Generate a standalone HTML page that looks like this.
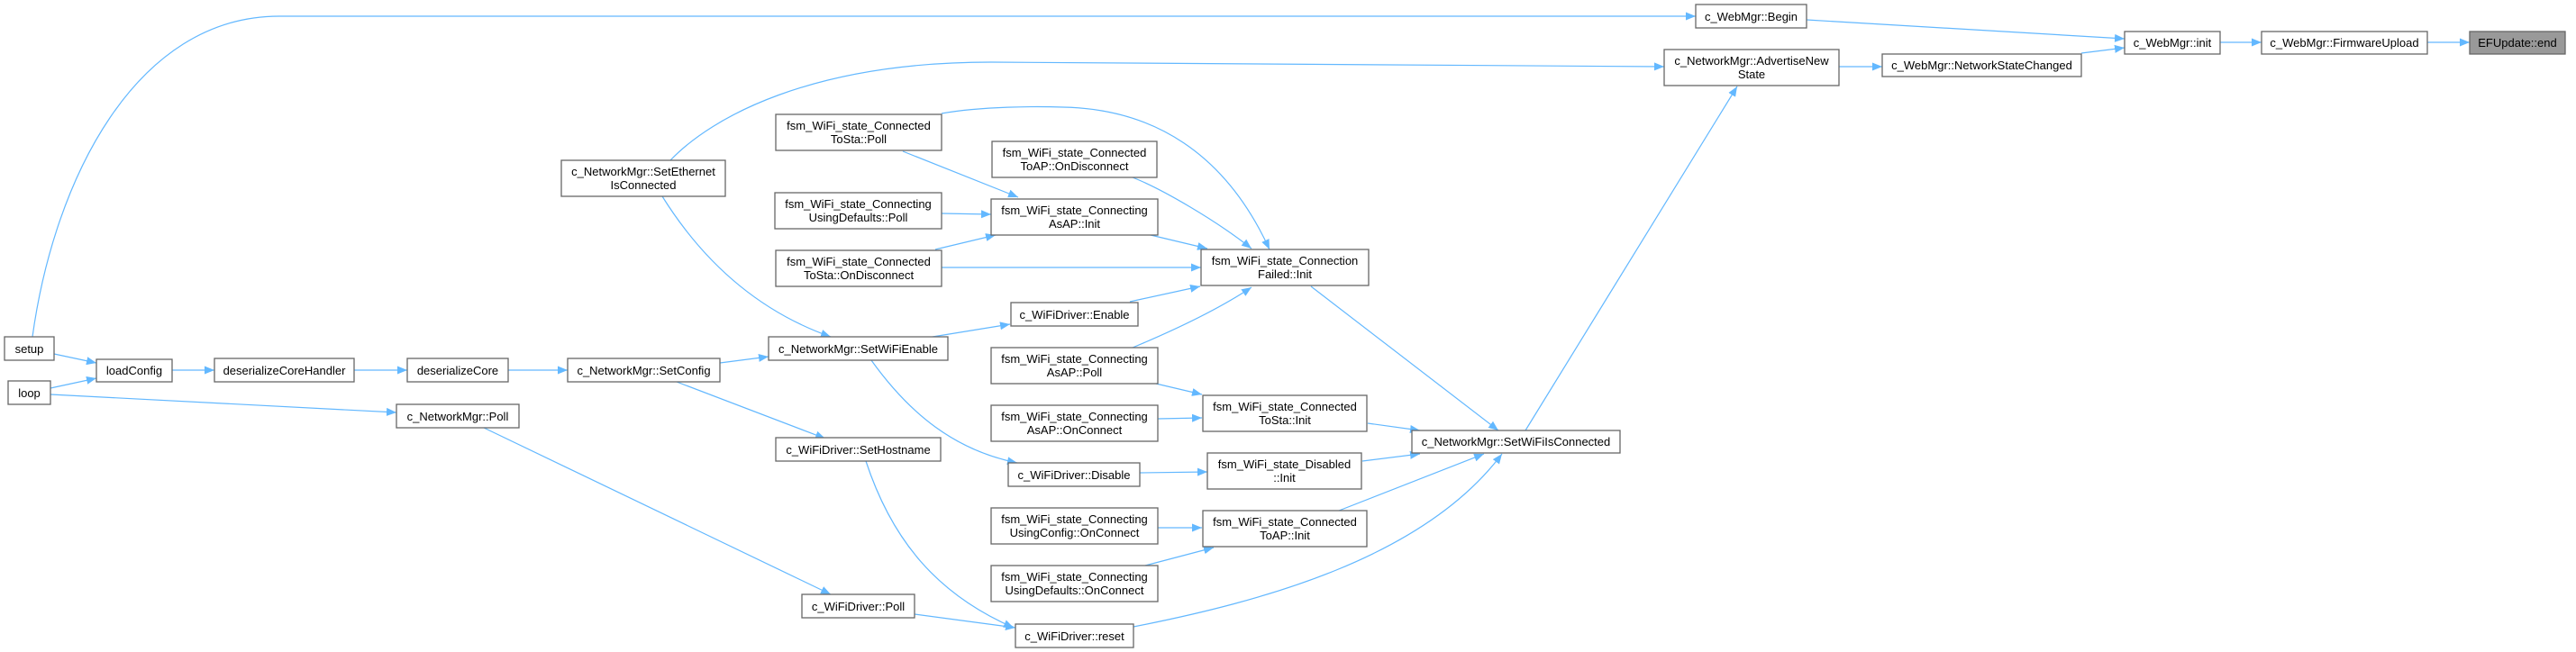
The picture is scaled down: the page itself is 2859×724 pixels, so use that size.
<!DOCTYPE html>
<html><head><meta charset="utf-8"><style>
html,body{margin:0;padding:0;background:#fff;}
svg{display:block;}
text{font-family:"Liberation Sans",Helvetica,Arial,sans-serif;font-size:13px;fill:#000;text-anchor:middle;}
.n{fill:#fff;stroke:#666;stroke-width:1.3;}
.e{fill:none;stroke:#63b8ff;stroke-width:1.2;marker-end:url(#a);}
</style></head><body>
<svg width="2859" height="724" viewBox="0 0 2859 724" xmlns="http://www.w3.org/2000/svg">
<defs><marker id="a" markerUnits="userSpaceOnUse" markerWidth="12" markerHeight="10" refX="11" refY="5" orient="auto"><path d="M0,0.5 L11,5 L0,9.5 z" fill="#63b8ff"/></marker></defs>

<!-- edges -->
<path class="e" d="M60,393 L107,403"/>
<path class="e" d="M56,431 L107,420"/>
<path class="e" d="M56,438 L440,458"/>
<path class="e" d="M36,374 C60,200 150,18 310,18 L1882,18"/>
<path class="e" d="M191,411 L238,411"/>
<path class="e" d="M393,411 L452,411"/>
<path class="e" d="M564,411 L630,411"/>
<path class="e" d="M799,403 L853,396"/>
<path class="e" d="M751,424 L916,487"/>
<path class="e" d="M744,178 C790,130 900,69 1100,69 L1847,74"/>
<path class="e" d="M735,218 C780,290 840,345 922,374"/>
<path class="e" d="M537,475 L922,660"/>
<path class="e" d="M1015,682 L1127,697"/>
<path class="e" d="M961,512 C990,600 1040,660 1125,697"/>
<path class="e" d="M1035,374 L1121,360"/>
<path class="e" d="M967,400 C1010,460 1060,500 1129,514"/>
<path class="e" d="M1002,168 L1130,219"/>
<path class="e" d="M1045,126 C1090,118 1150,118 1180,119 C1280,121 1360,170 1409,277"/>
<path class="e" d="M1045,237 L1100,238"/>
<path class="e" d="M1038,277 L1105,261"/>
<path class="e" d="M1045,297 L1333,297"/>
<path class="e" d="M1257,197 C1290,210 1350,245 1389,276"/>
<path class="e" d="M1277,261 L1340,276"/>
<path class="e" d="M1254,335 L1332,318"/>
<path class="e" d="M1257,386 C1300,368 1350,345 1389,319"/>
<path class="e" d="M1283,426 L1334,438"/>
<path class="e" d="M1285,465 L1334,464"/>
<path class="e" d="M1265,525 L1340,524"/>
<path class="e" d="M1285,586 L1334,586"/>
<path class="e" d="M1271,628 L1347,608"/>
<path class="e" d="M1455,318 L1663,478"/>
<path class="e" d="M1518,470 L1576,478"/>
<path class="e" d="M1512,512 L1576,504"/>
<path class="e" d="M1486,567 L1647,504"/>
<path class="e" d="M1258,696 C1400,668 1580,620 1667,504"/>
<path class="e" d="M1693,478 L1928,96"/>
<path class="e" d="M2041,74 L2089,74"/>
<path class="e" d="M2310,59 L2358,53"/>
<path class="e" d="M2005,22 L2358,43"/>
<path class="e" d="M2464,47 L2510,47"/>
<path class="e" d="M2694,47 L2741,47"/>

<!-- nodes -->
<rect class="n" x="5" y="374" width="55" height="26"/><text x="32.5" y="392">setup</text>
<rect class="n" x="9" y="423" width="47" height="26"/><text x="32.5" y="441">loop</text>
<rect class="n" x="107" y="399" width="84" height="25"/><text x="149" y="416">loadConfig</text>
<rect class="n" x="238" y="398" width="155" height="26"/><text x="315.5" y="416">deserializeCoreHandler</text>
<rect class="n" x="452" y="398" width="112" height="26"/><text x="508" y="416">deserializeCore</text>
<rect class="n" x="630" y="398" width="169" height="26"/><text x="714.5" y="416">c_NetworkMgr::SetConfig</text>
<rect class="n" x="440" y="449" width="136" height="26"/><text x="508" y="467">c_NetworkMgr::Poll</text>
<rect class="n" x="623" y="178" width="182" height="40"/><text x="714" y="195">c_NetworkMgr::SetEthernet</text><text x="714" y="210">IsConnected</text>
<rect class="n" x="861" y="127" width="184" height="40"/><text x="953" y="144">fsm_WiFi_state_Connected</text><text x="953" y="159">ToSta::Poll</text>
<rect class="n" x="860" y="214" width="185" height="40"/><text x="952.5" y="231">fsm_WiFi_state_Connecting</text><text x="952.5" y="246">UsingDefaults::Poll</text>
<rect class="n" x="861" y="278" width="184" height="40"/><text x="953" y="295">fsm_WiFi_state_Connected</text><text x="953" y="310">ToSta::OnDisconnect</text>
<rect class="n" x="853" y="374" width="199" height="26"/><text x="952.5" y="392">c_NetworkMgr::SetWiFiEnable</text>
<rect class="n" x="861" y="486" width="183" height="26"/><text x="952.5" y="504">c_WiFiDriver::SetHostname</text>
<rect class="n" x="890" y="660" width="125" height="26"/><text x="952.5" y="678">c_WiFiDriver::Poll</text>
<rect class="n" x="1101" y="157" width="183" height="40"/><text x="1192.5" y="174">fsm_WiFi_state_Connected</text><text x="1192.5" y="189">ToAP::OnDisconnect</text>
<rect class="n" x="1100" y="221" width="185" height="40"/><text x="1192.5" y="238">fsm_WiFi_state_Connecting</text><text x="1192.5" y="253">AsAP::Init</text>
<rect class="n" x="1122" y="336" width="141" height="26"/><text x="1192.5" y="354">c_WiFiDriver::Enable</text>
<rect class="n" x="1100" y="386" width="185" height="40"/><text x="1192.5" y="403">fsm_WiFi_state_Connecting</text><text x="1192.5" y="418">AsAP::Poll</text>
<rect class="n" x="1100" y="450" width="185" height="40"/><text x="1192.5" y="467">fsm_WiFi_state_Connecting</text><text x="1192.5" y="482">AsAP::OnConnect</text>
<rect class="n" x="1119" y="514" width="146" height="26"/><text x="1192" y="532">c_WiFiDriver::Disable</text>
<rect class="n" x="1100" y="564" width="185" height="40"/><text x="1192.5" y="581">fsm_WiFi_state_Connecting</text><text x="1192.5" y="596">UsingConfig::OnConnect</text>
<rect class="n" x="1100" y="628" width="185" height="40"/><text x="1192.5" y="645">fsm_WiFi_state_Connecting</text><text x="1192.5" y="660">UsingDefaults::OnConnect</text>
<rect class="n" x="1127" y="693" width="131" height="26"/><text x="1192.5" y="711">c_WiFiDriver::reset</text>
<rect class="n" x="1333" y="277" width="186" height="40"/><text x="1426" y="294">fsm_WiFi_state_Connection</text><text x="1426" y="309">Failed::Init</text>
<rect class="n" x="1335" y="439" width="182" height="40"/><text x="1426" y="456">fsm_WiFi_state_Connected</text><text x="1426" y="471">ToSta::Init</text>
<rect class="n" x="1340" y="503" width="171" height="40"/><text x="1425.5" y="520">fsm_WiFi_state_Disabled</text><text x="1425.5" y="535">::Init</text>
<rect class="n" x="1335" y="567" width="182" height="40"/><text x="1426" y="584">fsm_WiFi_state_Connected</text><text x="1426" y="599">ToAP::Init</text>
<rect class="n" x="1567" y="478" width="231" height="25"/><text x="1682.5" y="495">c_NetworkMgr::SetWiFiIsConnected</text>
<rect class="n" x="1847" y="55" width="194" height="40"/><text x="1944" y="72">c_NetworkMgr::AdvertiseNew</text><text x="1944" y="87">State</text>
<rect class="n" x="1882" y="5" width="123" height="26"/><text x="1943.5" y="23">c_WebMgr::Begin</text>
<rect class="n" x="2089" y="60" width="221" height="25"/><text x="2199.5" y="77">c_WebMgr::NetworkStateChanged</text>
<rect class="n" x="2358" y="35" width="106" height="25"/><text x="2411" y="52">c_WebMgr::init</text>
<rect class="n" x="2510" y="35" width="184" height="25"/><text x="2602" y="52">c_WebMgr::FirmwareUpload</text>
<rect x="2741" y="35" width="106" height="25" fill="#999" stroke="#666" stroke-width="1.3"/><text x="2794" y="52">EFUpdate::end</text>
</svg>
</body></html>
